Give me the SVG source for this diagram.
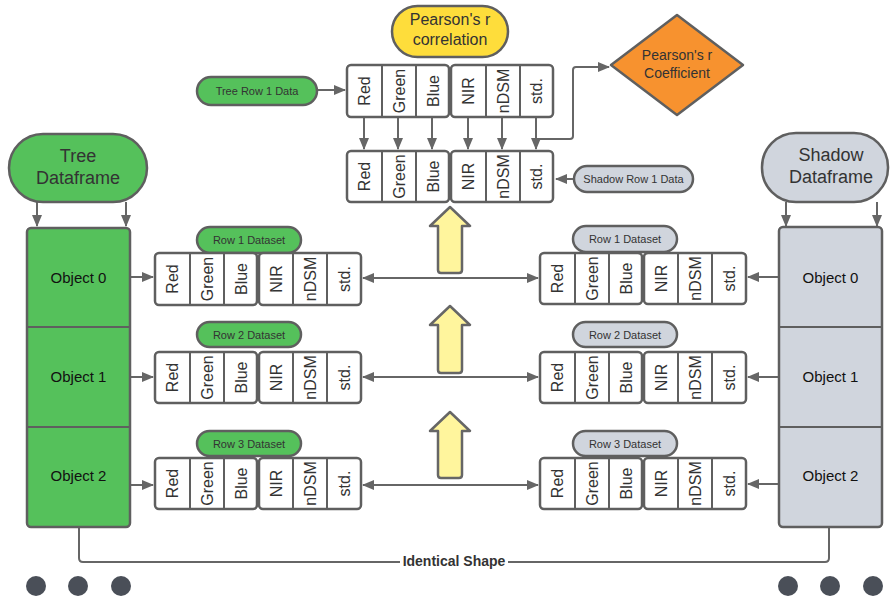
<svg xmlns="http://www.w3.org/2000/svg" width="894" height="598" viewBox="0 0 894 598">
<defs>
<style>
text{font-family:"Liberation Sans",Arial,sans-serif;fill:#333}
.cell{fill:#fff;stroke:#5f5f5f;stroke-width:2.5}
.div{stroke:#5f5f5f;stroke-width:2}
.ct{font-size:16px;text-anchor:middle;dominant-baseline:central}
.green{fill:#55c15b;stroke:#5f5f5f;stroke-width:2.5}
.gray{fill:#d0d5dd;stroke:#5f5f5f;stroke-width:2.5}
.con{fill:none;stroke:#666;stroke-width:2}
.pt{font-size:11px;text-anchor:middle;dominant-baseline:central}
.big{font-size:18px;text-anchor:middle}
.obj{font-size:15px;text-anchor:middle;dominant-baseline:central;fill:#111}
.ya{fill:#fff59d;stroke:#666;stroke-width:2.5;stroke-linejoin:round}
.dot{fill:#4a4f58}
</style>
<marker id="ah" markerUnits="userSpaceOnUse" markerWidth="12" markerHeight="10" refX="11" refY="5" orient="auto-start-reverse" viewBox="0 0 12 10">
<path d="M0,0 L12,5 L0,10 z" fill="#666"/>
</marker>
</defs>

<!-- connectors -->
<g id="connectors">
<path class="con" d="M317,90 H345" marker-end="url(#ah)"/>
<path class="con" d="M364,117 V149" marker-end="url(#ah)"/>
<path class="con" d="M398,117 V149" marker-end="url(#ah)"/>
<path class="con" d="M432,117 V149" marker-end="url(#ah)"/>
<path class="con" d="M468,117 V149" marker-end="url(#ah)"/>
<path class="con" d="M502,117 V149" marker-end="url(#ah)"/>
<path class="con" d="M536,117 V149" marker-end="url(#ah)"/>
<path class="con" d="M536,139 H570 Q573,139 573,136 V70 Q573,67 576,67 H609" marker-end="url(#ah)"/>
<path class="con" d="M574,179 H556" marker-end="url(#ah)"/>
<path class="con" d="M37,202 V226" marker-end="url(#ah)"/>
<path class="con" d="M126,202 V226" marker-end="url(#ah)"/>
<path class="con" d="M786,202 V226" marker-end="url(#ah)"/>
<path class="con" d="M877,202 V226" marker-end="url(#ah)"/>
<path class="con" d="M130,277 H153" marker-end="url(#ah)"/>
<path class="con" d="M130,377 H153" marker-end="url(#ah)"/>
<path class="con" d="M130,485 H153" marker-end="url(#ah)"/>
<path class="con" d="M779,277 H748" marker-end="url(#ah)"/>
<path class="con" d="M779,377 H748" marker-end="url(#ah)"/>
<path class="con" d="M779,484 H748" marker-end="url(#ah)"/>
<path class="con" d="M363,278 H538" marker-start="url(#ah)" marker-end="url(#ah)"/>
<path class="con" d="M363,377 H538" marker-start="url(#ah)" marker-end="url(#ah)"/>
<path class="con" d="M363,485 H538" marker-start="url(#ah)" marker-end="url(#ah)"/>
<path class="con" d="M79,527 V558 Q79,562 83,562 H400 M508,562 H825 Q829,562 829,558 V527"/>
<text x="454" y="566" style="font-size:14px;font-weight:bold;text-anchor:middle">Identical Shape</text>
</g>

<!-- Pearson's r correlation -->
<g id="pearson-correlation">
<rect x="392" y="6" width="116" height="51" rx="25.5" fill="#fedd3b" stroke="#5f5f5f" stroke-width="2.5"/>
<text x="450" y="25" style="font-size:16px;text-anchor:middle">Pearson's r</text>
<text x="450" y="45" style="font-size:16px;text-anchor:middle">correlation</text>
</g>

<!-- Pearson's r coefficient -->
<g id="pearson-coefficient">
<polygon points="677,15 743,65 677,115 611,65" fill="#f7922f" stroke="#5f5f5f" stroke-width="2.5" stroke-linejoin="round"/>
<text x="677" y="60" style="font-size:14px;text-anchor:middle">Pearson's r</text>
<text x="677" y="78" style="font-size:14px;text-anchor:middle">Coefficient</text>
</g>

<!-- Tree Row 1 Data -->
<g id="tree-row1-data">
<rect x="197" y="77" width="120" height="28" rx="14" class="green"/>
<text x="257" y="91" class="pt">Tree Row 1 Data</text>
</g>

<!-- Shadow Row 1 Data -->
<g id="shadow-row1-data">
<rect x="574" y="166" width="119" height="26" rx="13" class="gray"/>
<text x="633.5" y="179" class="pt">Shadow Row 1 Data</text>
</g>

<!-- Top row 1 -->
<g id="top-row1" transform="translate(347,65)">
<rect x="0" y="0" width="102" height="52" rx="4" class="cell"/>
<rect x="104" y="0" width="102" height="52" rx="4" class="cell"/>
<path class="div" d="M35,0 V52 M69,0 V52 M139,0 V52 M173,0 V52"/>
<text class="ct" transform="translate(17,26) rotate(-90)">Red</text>
<text class="ct" transform="translate(52,26) rotate(-90)">Green</text>
<text class="ct" transform="translate(86,26) rotate(-90)">Blue</text>
<text class="ct" transform="translate(121,26) rotate(-90)">NIR</text>
<text class="ct" transform="translate(156,26) rotate(-90)">nDSM</text>
<text class="ct" transform="translate(189,26) rotate(-90)">std.</text>
</g>

<!-- Top row 2 -->
<g id="top-row2" transform="translate(347,151)">
<rect x="0" y="0" width="102" height="51" rx="4" class="cell"/>
<rect x="104" y="0" width="102" height="51" rx="4" class="cell"/>
<path class="div" d="M35,0 V51 M69,0 V51 M139,0 V51 M173,0 V51"/>
<text class="ct" transform="translate(17,25.5) rotate(-90)">Red</text>
<text class="ct" transform="translate(52,25.5) rotate(-90)">Green</text>
<text class="ct" transform="translate(86,25.5) rotate(-90)">Blue</text>
<text class="ct" transform="translate(121,25.5) rotate(-90)">NIR</text>
<text class="ct" transform="translate(156,25.5) rotate(-90)">nDSM</text>
<text class="ct" transform="translate(189,25.5) rotate(-90)">std.</text>
</g>

<!-- Tree Dataframe -->
<g id="tree-dataframe">
<rect x="9" y="134" width="138" height="68" rx="34" class="green"/>
<text x="78" y="162" class="big">Tree</text>
<text x="78" y="184" class="big">Dataframe</text>
</g>

<!-- Tree objects -->
<g id="tree-objects">
<rect x="27" y="228" width="103" height="299" rx="4" class="green"/>
<path class="div" d="M27,327 H130 M27,427 H130" stroke-width="2.5"/>
<text x="78.5" y="277" class="obj">Object 0</text>
<text x="78.5" y="376" class="obj">Object 1</text>
<text x="78.5" y="475" class="obj">Object 2</text>
</g>

<!-- Shadow Dataframe -->
<g id="shadow-dataframe">
<rect x="762" y="133" width="126" height="69" rx="34" class="gray"/>
<text x="831" y="161" class="big">Shadow</text>
<text x="831" y="183" class="big">Dataframe</text>
</g>

<!-- Shadow objects -->
<g id="shadow-objects">
<rect x="779" y="227" width="103" height="300" rx="4" class="gray"/>
<path class="div" d="M779,327 H882 M779,427 H882" stroke-width="2.5"/>
<text x="830.5" y="277" class="obj">Object 0</text>
<text x="830.5" y="376" class="obj">Object 1</text>
<text x="830.5" y="475" class="obj">Object 2</text>
</g>

<!-- Tree rows -->
<g id="tree-row1-label"><rect x="197" y="227" width="104" height="26" rx="13" class="green"/><text x="249" y="240" class="pt">Row 1 Dataset</text></g>
<g id="tree-row1" transform="translate(155,253)">
<rect x="0" y="0" width="102" height="52" rx="4" class="cell"/>
<rect x="104" y="0" width="102" height="52" rx="4" class="cell"/>
<path class="div" d="M35,0 V52 M69,0 V52 M138,0 V52 M172,0 V52"/>
<text class="ct" transform="translate(17,26) rotate(-90)">Red</text>
<text class="ct" transform="translate(52,26) rotate(-90)">Green</text>
<text class="ct" transform="translate(86,26) rotate(-90)">Blue</text>
<text class="ct" transform="translate(121,26) rotate(-90)">NIR</text>
<text class="ct" transform="translate(155,26) rotate(-90)">nDSM</text>
<text class="ct" transform="translate(189,26) rotate(-90)">std.</text>
</g>

<g id="tree-row2-label"><rect x="197" y="322" width="104" height="25" rx="12.5" class="green"/><text x="249" y="334.5" class="pt">Row 2 Dataset</text></g>
<g id="tree-row2" transform="translate(155,352)">
<rect x="0" y="0" width="102" height="51" rx="4" class="cell"/>
<rect x="104" y="0" width="102" height="51" rx="4" class="cell"/>
<path class="div" d="M35,0 V51 M69,0 V51 M138,0 V51 M172,0 V51"/>
<text class="ct" transform="translate(17,25.5) rotate(-90)">Red</text>
<text class="ct" transform="translate(52,25.5) rotate(-90)">Green</text>
<text class="ct" transform="translate(86,25.5) rotate(-90)">Blue</text>
<text class="ct" transform="translate(121,25.5) rotate(-90)">NIR</text>
<text class="ct" transform="translate(155,25.5) rotate(-90)">nDSM</text>
<text class="ct" transform="translate(189,25.5) rotate(-90)">std.</text>
</g>

<g id="tree-row3-label"><rect x="197" y="431" width="104" height="25" rx="12.5" class="green"/><text x="249" y="443.5" class="pt">Row 3 Dataset</text></g>
<g id="tree-row3" transform="translate(155,458)">
<rect x="0" y="0" width="102" height="51" rx="4" class="cell"/>
<rect x="104" y="0" width="102" height="51" rx="4" class="cell"/>
<path class="div" d="M35,0 V51 M69,0 V51 M138,0 V51 M172,0 V51"/>
<text class="ct" transform="translate(17,25.5) rotate(-90)">Red</text>
<text class="ct" transform="translate(52,25.5) rotate(-90)">Green</text>
<text class="ct" transform="translate(86,25.5) rotate(-90)">Blue</text>
<text class="ct" transform="translate(121,25.5) rotate(-90)">NIR</text>
<text class="ct" transform="translate(155,25.5) rotate(-90)">nDSM</text>
<text class="ct" transform="translate(189,25.5) rotate(-90)">std.</text>
</g>

<!-- Shadow rows -->
<g id="shadow-row1-label"><rect x="573" y="226" width="104" height="26" rx="13" class="gray"/><text x="625" y="239" class="pt">Row 1 Dataset</text></g>
<g id="shadow-row1" transform="translate(540,253)">
<rect x="0" y="0" width="102" height="51" rx="4" class="cell"/>
<rect x="104" y="0" width="102" height="51" rx="4" class="cell"/>
<path class="div" d="M35,0 V51 M69,0 V51 M138,0 V51 M172,0 V51"/>
<text class="ct" transform="translate(17,25.5) rotate(-90)">Red</text>
<text class="ct" transform="translate(52,25.5) rotate(-90)">Green</text>
<text class="ct" transform="translate(86,25.5) rotate(-90)">Blue</text>
<text class="ct" transform="translate(121,25.5) rotate(-90)">NIR</text>
<text class="ct" transform="translate(155,25.5) rotate(-90)">nDSM</text>
<text class="ct" transform="translate(189,25.5) rotate(-90)">std.</text>
</g>

<g id="shadow-row2-label"><rect x="573" y="322" width="104" height="25" rx="12.5" class="gray"/><text x="625" y="334.5" class="pt">Row 2 Dataset</text></g>
<g id="shadow-row2" transform="translate(540,352)">
<rect x="0" y="0" width="102" height="51" rx="4" class="cell"/>
<rect x="104" y="0" width="102" height="51" rx="4" class="cell"/>
<path class="div" d="M35,0 V51 M69,0 V51 M138,0 V51 M172,0 V51"/>
<text class="ct" transform="translate(17,25.5) rotate(-90)">Red</text>
<text class="ct" transform="translate(52,25.5) rotate(-90)">Green</text>
<text class="ct" transform="translate(86,25.5) rotate(-90)">Blue</text>
<text class="ct" transform="translate(121,25.5) rotate(-90)">NIR</text>
<text class="ct" transform="translate(155,25.5) rotate(-90)">nDSM</text>
<text class="ct" transform="translate(189,25.5) rotate(-90)">std.</text>
</g>

<g id="shadow-row3-label"><rect x="573" y="431" width="104" height="25" rx="12.5" class="gray"/><text x="625" y="443.5" class="pt">Row 3 Dataset</text></g>
<g id="shadow-row3" transform="translate(540,458)">
<rect x="0" y="0" width="102" height="51" rx="4" class="cell"/>
<rect x="104" y="0" width="102" height="51" rx="4" class="cell"/>
<path class="div" d="M35,0 V51 M69,0 V51 M138,0 V51 M172,0 V51"/>
<text class="ct" transform="translate(17,25.5) rotate(-90)">Red</text>
<text class="ct" transform="translate(52,25.5) rotate(-90)">Green</text>
<text class="ct" transform="translate(86,25.5) rotate(-90)">Blue</text>
<text class="ct" transform="translate(121,25.5) rotate(-90)">NIR</text>
<text class="ct" transform="translate(155,25.5) rotate(-90)">nDSM</text>
<text class="ct" transform="translate(189,25.5) rotate(-90)">std.</text>
</g>

<!-- yellow up arrows -->
<g id="up-arrow-1"><path class="ya" d="M450,207 L470,226 L462,226 L462,270 Q462,273 459,273 L441,273 Q438,273 438,270 L438,226 L430,226 Z"/></g>
<g id="up-arrow-2"><path class="ya" d="M450,306 L470,325 L462,325 L462,370 Q462,373 459,373 L441,373 Q438,373 438,370 L438,325 L430,325 Z"/></g>
<g id="up-arrow-3"><path class="ya" d="M450,412 L470,431 L462,431 L462,475 Q462,478 459,478 L441,478 Q438,478 438,475 L438,431 L430,431 Z"/></g>

<!-- dots -->
<g id="dots-left"><circle cx="36" cy="586" r="10" class="dot"/><circle cx="78" cy="586" r="10" class="dot"/><circle cx="121" cy="586" r="10" class="dot"/></g>
<g id="dots-right"><circle cx="788" cy="586" r="10" class="dot"/><circle cx="830" cy="586" r="10" class="dot"/><circle cx="873" cy="586" r="10" class="dot"/></g>
</svg>
